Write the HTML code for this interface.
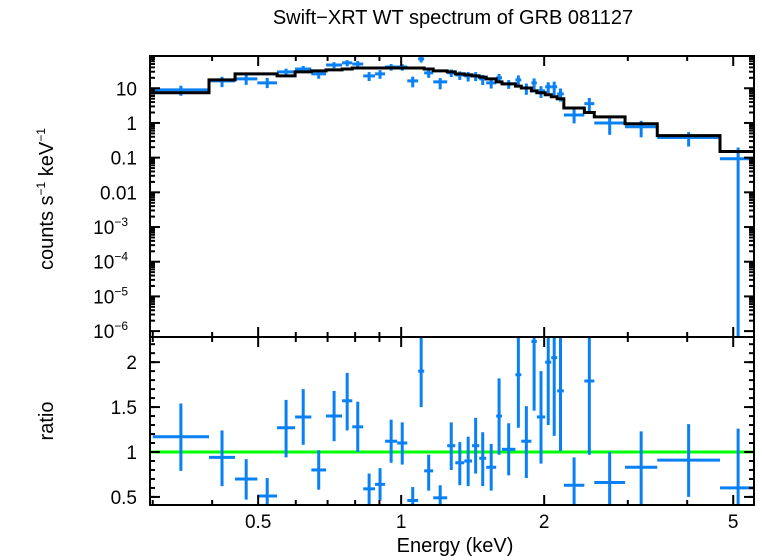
<!DOCTYPE html>
<html><head><meta charset="utf-8"><style>
html,body{margin:0;padding:0;background:#fff;}
svg{display:block;font-family:"Liberation Sans",sans-serif;}
</style></head><body>
<svg id="chart" width="758" height="556" viewBox="0 0 758 556" xmlns="http://www.w3.org/2000/svg">
<text x="453" y="24" font-size="20" text-anchor="middle">Swift−XRT WT spectrum of GRB 081127</text>
<text transform="translate(53,199) rotate(-90)" font-size="20" text-anchor="middle">counts s<tspan font-size="12" dy="-8">−1</tspan><tspan dy="8"> keV</tspan><tspan font-size="12" dy="-8">−1</tspan></text>
<text transform="translate(53,421) rotate(-90)" font-size="20" text-anchor="middle">ratio</text>
<text x="455" y="552" font-size="20" text-anchor="middle">Energy (keV)</text>
<g id="g-top"></g>
<g id="g-bot"></g>
<g id="g-axes"></g>
</svg>
<script>
const edges=[0.30,0.394,0.447,0.498,0.548,0.598,0.647,0.695,0.751,0.789,0.832,0.881,0.925,0.981,1.03,1.086,1.118,1.168,1.25,1.30,1.358,1.41,1.46,1.51,1.585,1.63,1.74,1.79,1.88,1.93,2.01,2.07,2.13,2.20,2.43,2.55,2.96,3.46,4.69,5.59];
const flux=[9.0,16.3,18.6,14.3,29.6,36,26,47,54,50,22.7,26,41,41,16.3,70,27.7,15.3,28,24.3,22.7,22.7,18.6,14.3,20,13.4,17.4,10.2,14.3,8.4,11,11,6.9,1.7,3.6,1.0,0.78,0.38,0.093];
const model=[7.4,17.4,26,26,22.7,29.6,31.6,34,36,38.5,38.5,38.5,38.5,38.5,38.5,38.5,36,31.6,29.6,26,24.3,22.7,21,18.6,15.3,13.4,11.5,10.2,8.4,7.4,6.5,5.7,5.0,2.7,2.0,1.5,0.95,0.43,0.15];
const ratio=[1.17,0.94,0.70,0.51,1.27,1.39,0.80,1.40,1.57,1.28,0.59,0.64,1.12,1.10,0.46,1.90,0.79,0.49,1.07,0.88,0.90,1.07,0.93,0.83,1.40,1.03,1.86,1.12,2.23,1.39,2.0,2.05,1.68,0.63,1.79,0.66,0.83,0.91,0.60];
const ratioLo=[0.79,0.62,0.47,0.36,0.94,1.08,0.58,1.12,1.24,1.0,0.42,0.46,0.88,0.86,0.30,1.5,0.57,0.30,0.8,0.63,0.62,0.76,0.62,0.57,0.97,0.74,1.27,0.71,1.46,0.87,1.3,1.18,1.01,0.36,0.97,0.30,0.41,0.5,0.0];
const ratioHi=[1.54,1.24,0.92,0.71,1.58,1.70,1.02,1.68,1.88,1.56,0.76,0.82,1.36,1.33,0.61,2.4,0.97,0.63,1.33,1.11,1.17,1.38,1.22,1.09,1.82,1.32,2.5,1.51,3.0,1.9,2.7,2.9,2.4,0.94,2.6,1.0,1.23,1.31,1.26];
const xTickVals=[0.5,1,2,5];
const xTickLabels=["0.5","1","2","5"];
const ratioTicks=[0.5,1,1.5,2];
const ratioTickLabels=["0.5","1","1.5","2"];
const fluxDecades=[10,1,0.1,0.01,0.001,0.0001,0.00001,0.000001];
const fluxLabels=["10","1","0.1","0.01","10|−3","10|−4","10|−5","10|−6"];

const X0=150,X1=754,TY0=56,TY1=337,BY0=337,BY1=505;
const EMIN=0.296,EMAX=5.53;
const LMIN=-6.17,LMAX=1.93;
const RMIN=0.41,RMAX=2.28;
const BLUE="#0a80f5";
function xs(e){return X0+(Math.log10(e)-Math.log10(EMIN))/(Math.log10(EMAX)-Math.log10(EMIN))*(X1-X0);}
function ys(f){let l=f>0?Math.log10(f):-99;l=Math.max(LMIN,Math.min(LMAX,l));return TY1-(l-LMIN)/(LMAX-LMIN)*(TY1-TY0);}
function yr(r){r=Math.max(RMIN,Math.min(RMAX,r));return BY1-(r-RMIN)/(RMAX-RMIN)*(BY1-BY0);}
const NS="http://www.w3.org/2000/svg";
function mk(tag,attrs,parent){const e=document.createElementNS(NS,tag);for(const k in attrs)e.setAttribute(k,attrs[k]);parent.appendChild(e);return e;}
const gT=document.getElementById('g-top'),gB=document.getElementById('g-bot'),gA=document.getElementById('g-axes');
function cx(i){return Math.sqrt(edges[i]*edges[i+1]);}
function xe(i){return Math.min(xs(edges[i+1]),X1);}

for(let i=0;i<flux.length;i++){
  const g=mk('g',{},gT);
  
  
  const x=xs(cx(i)),y=ys(flux[i]);
  mk('line',{x1:xs(edges[i]),x2:xe(i),y1:y,y2:y,stroke:BLUE,'stroke-width':3},g);
  const fh=flux[i]*ratioHi[i]/ratio[i], fl=flux[i]*ratioLo[i]/ratio[i];
  mk('line',{x1:x,x2:x,y1:ys(fh),y2:ys(fl),stroke:BLUE,'stroke-width':3},g);
}
let d="";
for(let i=0;i<model.length;i++){
  const y=ys(model[i]);
  d+=(i===0?"M":"L")+xs(edges[i])+","+y+" L"+xe(i)+","+y+" ";
}
const mp=mk('path',{d:d,fill:'none',stroke:'#000','stroke-width':3},gT);



const gl=mk('line',{x1:X0,x2:X1,y1:yr(1),y2:yr(1),stroke:'#00ff00','stroke-width':3},gB);


for(let i=0;i<ratio.length;i++){
  const g=mk('g',{},gB);
  
  
  const x=xs(cx(i)),y=yr(ratio[i]);
  mk('line',{x1:xs(edges[i]),x2:xe(i),y1:y,y2:y,stroke:BLUE,'stroke-width':3},g);
  mk('line',{x1:x,x2:x,y1:yr(ratioHi[i]),y2:yr(ratioLo[i]),stroke:BLUE,'stroke-width':3},g);
}

for(const [a,b,n] of [[TY0,TY1,'top-frame'],[BY0,BY1,'bottom-frame']]){
  const r=mk('rect',{x:X0,y:a,width:X1-X0,height:b-a,fill:'none',stroke:'#000','stroke-width':2},gA);
  
  
}
const minorX=[0.3,0.4,0.6,0.7,0.8,0.9,3,4];
function xtick(e,len){
  const x=xs(e);
  for(const [yy,dir] of [[TY0,1],[TY1,-1],[BY0,1],[BY1,-1]]) mk('line',{x1:x,x2:x,y1:yy,y2:yy+dir*len,stroke:'#000','stroke-width':2},gA);
}
minorX.forEach(e=>xtick(e,5));
xTickVals.forEach((e,i)=>{
  xtick(e,10);
  const t=mk('text',{x:xs(e),y:528,'font-size':19,'text-anchor':'middle'},gA);
  t.textContent=xTickLabels[i];
  
  
});
function ytick(y,len){
  mk('line',{x1:X0,x2:X0+len,y1:y,y2:y,stroke:'#000','stroke-width':2},gA);
  mk('line',{x1:X1,x2:X1-len,y1:y,y2:y,stroke:'#000','stroke-width':2},gA);
}
fluxDecades.forEach((v,i)=>{
  ytick(ys(v),10);
  for(let m=2;m<=9;m++){const f=v*m;if(Math.log10(f)<LMAX)ytick(ys(f),5);}
  const parts=fluxLabels[i].split("|");
  const t=mk('text',{x:parts.length>1?128:137,y:ys(v)+7,'font-size':19,'text-anchor':'end'},gA);
  
  
  if(parts.length>1){
    t.textContent=parts[0];
    const s=mk('tspan',{'font-size':12,dy:-8},t);s.textContent=parts[1];
  } else t.textContent=parts[0];
});
for(let r=0.5;r<=2.25;r+=0.1){ytick(yr(r),5);}
ratioTicks.forEach((r,i)=>{
  ytick(yr(r),10);
  const t=mk('text',{x:137,y:yr(r)+7,'font-size':19,'text-anchor':'end'},gA);
  t.textContent=ratioTickLabels[i];
  
  
});
</script>
</body></html>
